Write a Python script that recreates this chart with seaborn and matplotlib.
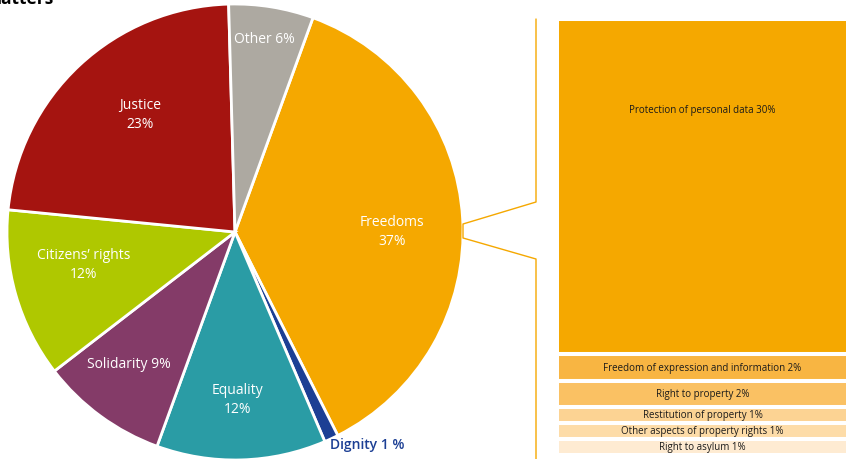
import numpy as np
import pandas as pd
import seaborn as sns
import matplotlib.pyplot as plt
from matplotlib.lines import Line2D

# Complaints by Charter title (share of total, %)
titles = ['Freedoms', 'Dignity', 'Equality', 'Solidarity',
          'Citizens\u2019 rights', 'Justice', 'Other']
title_shares = [37, 1, 12, 9, 12, 23, 6]
title_labels = ['Freedoms\n37%', 'Dignity 1 %', 'Equality\n12%', 'Solidarity 9%',
                'Citizens\u2019 rights\n12%', 'Justice\n23%', 'Other 6%']
title_colors = ['#F5A800', '#1C3F94', '#2A9CA5', '#843B68',
                '#AFC800', '#A51410', '#ADA9A1']

# Breakdown of the 'Freedoms' slice
freedom_topics = ['Protection of personal data', 'Freedom of expression and information',
                  'Right to property', 'Restitution of property',
                  'Other aspects of property rights', 'Right to asylum']
freedom_pct = [30, 2, 2, 1, 1, 1]
freedom_heights = [28.4, 2.3, 2.2, 1.36, 1.36, 1.36]
freedom_colors = ['#F5A800', '#F8B542', '#FAC163', '#FCD393', '#FDDCA8', '#FEEBD2']

sns.set_theme(style='white')
plt.rcParams['font.family'] = ['Open Sans', 'DejaVu Sans']

W, H = 846, 460
fig = plt.figure(figsize=(W / 100, H / 100), dpi=100)

# ---- pie ----
cx, cy, r = 235, 233, 228
ax = fig.add_axes([(cx - r) / W, (H - cy - r) / H, 2 * r / W, 2 * r / H])
wedges, _ = ax.pie(title_shares, colors=title_colors, startangle=70,
                   counterclock=False, radius=1,
                   wedgeprops=dict(edgecolor='white', linewidth=2))
ax.set_xlim(-1, 1)
ax.set_ylim(-1, 1)
ax.set_aspect('equal')
ax.axis('off')

# label placement: (angle offset from wedge middle in degrees, radius)
label_place = [(-3.1, 0.69), (7, 1.096), (-0.6, 0.732), (-2.8, 0.742),
               (-4, 0.677), (-4.2, 0.665), (0.7, 0.86)]
for w, lab, (off, rd), name in zip(wedges, title_labels, label_place, titles):
    ang = np.deg2rad((w.theta1 + w.theta2) / 2 + off)
    color = '#1C3F94' if name == 'Dignity' else 'white'
    weight = 'semibold' if name == 'Dignity' else 'normal'
    ax.text(rd * np.cos(ang), rd * np.sin(ang), lab, ha='center', va='center',
            color=color, fontsize=10, fontweight=weight, linespacing=1.32,
            clip_on=False)

# ---- breakdown bar ----
top_px, bot_px, left_px = 20, 456, 559
ax2 = fig.add_axes([left_px / W, (H - bot_px) / H, (W - left_px) / W, (bot_px - top_px) / H])
df = pd.DataFrame({'topic': freedom_topics, 'pct': freedom_pct,
                   'height': freedom_heights, 'color': freedom_colors})
df['bottom'] = df['height'].cumsum() - df['height']
ax2.bar(np.zeros(len(df)), df['height'], bottom=df['bottom'], width=1.2,
        color=df['color'], edgecolor='white', linewidth=2.9)
total = df['height'].sum()
ax2.set_xlim(-0.5, 0.5)
ax2.set_ylim(total, 0)
ax2.axis('off')
for i, row in df.iterrows():
    frac = 0.27 if i == 0 else 0.5
    ax2.text(0, row['bottom'] + frac * row['height'], f"{row['topic']} {row['pct']}%",
             ha='center', va='center', fontsize=7, color='#1a1a1a')

# ---- bracket connecting the pie to the bar ----
lx = 536
pts = [(lx, 20), (lx, 203), (cx + r, 225), (cx + r, 239), (lx, 260), (lx, H)]
fig.add_artist(Line2D([p[0] / W for p in pts], [1 - p[1] / H for p in pts],
                      transform=fig.transFigure, color='#F5A800', linewidth=1))

# partially visible title at top edge (cut by the figure border, as in the source)
fig.text(-15 / W, 1 - 4 / H, 'matters', fontsize=12.5, fontweight='bold',
         color='black', va='baseline', ha='left')

fig.savefig('out.png', dpi=100)
